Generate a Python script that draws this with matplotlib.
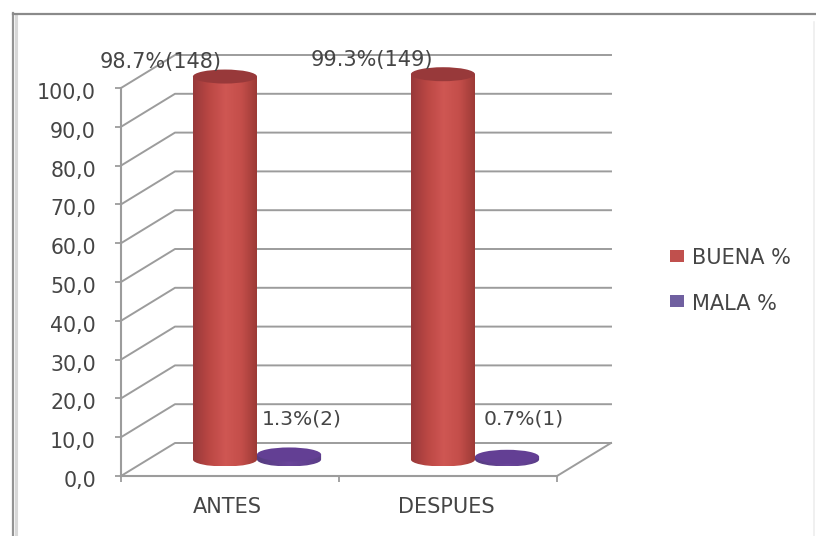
import numpy as np
import matplotlib
matplotlib.use("Agg")
import matplotlib.pyplot as plt
from matplotlib.patches import Ellipse, Rectangle, PathPatch
from matplotlib.path import Path
from matplotlib.colors import LinearSegmentedColormap

categorias = ["ANTES", "DESPUES"]
buena = [98.7, 99.3]
mala = [1.3, 0.7]
etiquetas_buena = ["98.7%(148)", "99.3%(149)"]
etiquetas_mala = ["1.3%(2)", "0.7%(1)"]
ticks_y = [0, 10, 20, 30, 40, 50, 60, 70, 80, 90, 100]

ANCHO, ALTO = 816, 536
GRIS = "#9c9c9c"
TEXTO = "#454545"
plt.rcParams["font.family"] = ["DejaVu Sans"]

fig = plt.figure(figsize=(ANCHO / 100, ALTO / 100), dpi=100)

# marco exterior del grafico
fondo = fig.add_axes([0, 0, 1, 1])
fondo.set_xlim(0, ANCHO)
fondo.set_ylim(ALTO, 0)
fondo.axis("off")
fondo.plot([15.5, 15.5], [15, ALTO], color="#d8d8d8", lw=2.2)
fondo.plot([13, 13], [13, ALTO], color="#949494", lw=1.6)
fondo.plot([13, ANCHO], [13.5, 13.5], color="#8a8a8a", lw=1.6)
fondo.plot([814, 814], [22, ALTO], color="#eeeeee", lw=1.2)

# ejes: 218 px por categoria, 3.88 px por unidad
ax = fig.add_axes([121 / ANCHO, 1 - 476 / ALTO, 436 / ANCHO, 388 / ALTO])
ax.set_xlim(0, 2)
ax.set_ylim(0, 100)
ax.patch.set_alpha(0)
for lado in ["top", "right"]:
    ax.spines[lado].set_visible(False)
for lado in ["left", "bottom"]:
    ax.spines[lado].set_color(GRIS)
    ax.spines[lado].set_linewidth(1.5)

# profundidad del efecto 3D en unidades de datos
dx = 54 / 218
dy = 33 / 3.88

for v in ticks_y:
    ax.plot([0, dx, 2 + dx], [v, v + dy, v + dy], color=GRIS, lw=1.4, clip_on=False, zorder=1)
ax.plot([2, 2 + dx], [0, dy], color=GRIS, lw=1.4, clip_on=False, zorder=1)

ax.set_xticks([0, 1, 2])
ax.set_xticklabels([])
ax.set_yticks(ticks_y)
ax.set_yticklabels([])
ax.tick_params(axis="both", color=GRIS, width=1.3, length=4.5)

# los rotulos del eje Y van un poco por debajo de su marca
for v in ticks_y:
    ax.annotate("%d,0" % v, (0, v), xytext=(-25, -5), textcoords="offset pixels",
                ha="right", va="center", fontsize=14.8, color=TEXTO, annotation_clip=False)
for i, c in enumerate(categorias):
    ax.text(i + 0.49, -8, c, ha="center", va="center", fontsize=15, color=TEXTO)

cmap_rojo = LinearSegmentedColormap.from_list("rojo", ["#98393a", "#bb4744", "#cf5753", "#c44e4a", "#9a3935"])
cmap_morado = LinearSegmentedColormap.from_list("morado", ["#553c80", "#6a459a", "#5a3d88"])


def cilindro(xc, valor, ancho, cmap, tapa, z):
    # xc y valor en datos, la base queda a media profundidad
    x0 = xc + dx / 2 - ancho / 2
    x1 = xc + dx / 2 + ancho / 2
    y0 = dy / 2
    y1 = y0 + valor
    ry = 7 / 3.88
    k = 0.5523
    xm = (x0 + x1) / 2
    w = ancho / 2
    verts = [(x0, y1), (x0, y0),
             (x0, y0 - k * ry), (xm - k * w, y0 - ry), (xm, y0 - ry),
             (xm + k * w, y0 - ry), (x1, y0 - k * ry), (x1, y0),
             (x1, y1), (x0, y1)]
    codes = [Path.MOVETO, Path.LINETO, Path.CURVE4, Path.CURVE4, Path.CURVE4,
             Path.CURVE4, Path.CURVE4, Path.CURVE4, Path.LINETO, Path.CLOSEPOLY]
    cuerpo = PathPatch(Path(verts, codes), fc="none", ec="none", transform=ax.transData)
    ax.add_patch(cuerpo)
    grad = np.linspace(0, 1, 128).reshape(1, -1)
    im = ax.imshow(grad, cmap=cmap, extent=[x0, x1, y0 - ry, y1], aspect="auto", zorder=z)
    im.set_clip_box(fig.bbox)
    im.set_clip_path(cuerpo)
    ax.add_patch(Ellipse((xm, y1), ancho, 2 * ry, fc=tapa, ec="none", zorder=z + 0.1, clip_on=False))
    return xm, y1


desp = 0.147
ancho_barra = 0.294
desplaz_buena = [(-64, 15), (-71, 14.5)]
desplaz_mala = [0.18, 0.2]
for i in range(len(categorias)):
    xm, y1 = cilindro(i + 0.5 - desp, buena[i], ancho_barra, cmap_rojo, "#98393a", 3)
    cilindro(i + 0.5 + desp, mala[i], ancho_barra, cmap_morado, "#633f94", 4)
    ax.annotate(etiquetas_buena[i], (xm, y1), xytext=desplaz_buena[i], textcoords="offset pixels",
                ha="center", va="center", fontsize=15, color=TEXTO, zorder=6, annotation_clip=False)
    ax.text(i + 0.5 + desp + desplaz_mala[i], 14.8, etiquetas_mala[i],
            ha="center", va="center", fontsize=14.6, color=TEXTO, zorder=6)

ax.set_xlim(0, 2)
ax.set_ylim(0, 100)

# leyenda
fondo.add_patch(Rectangle((670, 250), 14, 12, fc="#c0504d", ec="none"))
fondo.add_patch(Rectangle((670, 295), 14, 12, fc="#7060a0", ec="none"))
fondo.text(692, 258, "BUENA %", va="center", fontsize=15, color=TEXTO)
fondo.text(692, 304, "MALA %", va="center", fontsize=15, color=TEXTO)

fig.savefig("out.png", dpi=100)
